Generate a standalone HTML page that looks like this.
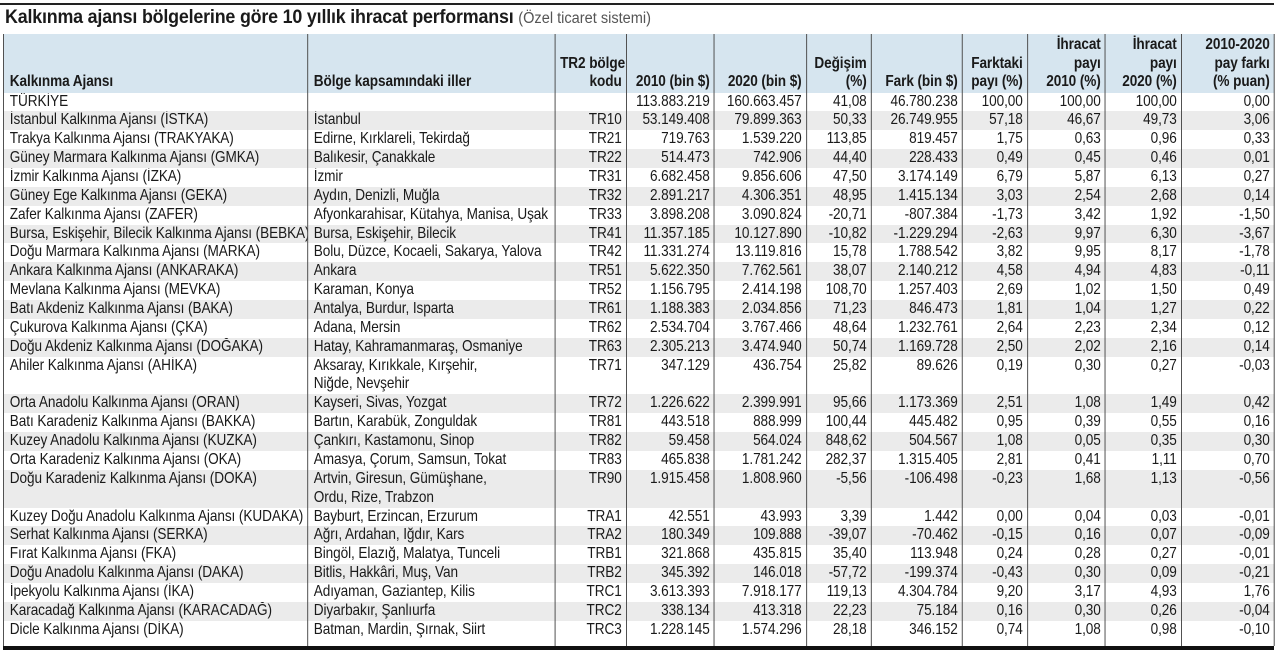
<!DOCTYPE html>
<html><head><meta charset="utf-8">
<style>
*{margin:0;padding:0;box-sizing:border-box}
body{width:1280px;height:654px;background:#fff;position:relative;overflow:hidden;font-family:"Liberation Sans",sans-serif;color:#1a1a1a}
#top{position:absolute;left:0;top:3px;width:1274px;height:2px;background:#222}
#title{position:absolute;left:5px;top:7px;font-size:19px;font-weight:bold;white-space:nowrap;letter-spacing:-0.2px;transform:scaleX(0.94);transform-origin:left top}
#title span{font-weight:normal;font-size:15.5px;color:#555;letter-spacing:0}
table{position:absolute;left:3px;top:34px;border-collapse:collapse;table-layout:fixed;width:1495.3px;font-size:16px;letter-spacing:-0.1px;transform:scaleX(0.85);transform-origin:left top}
td,th{border-left:1px solid #333;border-right:1px solid #333;padding:0 5px;white-space:nowrap;overflow:hidden;line-height:18.86px;vertical-align:top}
th{background:#d6e5ef;font-weight:bold;vertical-align:bottom;height:58.6px;line-height:18.5px;text-align:right;padding-bottom:1px}
th.l{text-align:left}
td{height:18.86px;text-align:right}
td.l{text-align:left;padding-left:7px}
td.m{text-align:left;padding-left:7px}
tr.g td{background:#ebebeb}
tr.d td{height:37.72px}
tr.e td{height:6px}
#bot{position:absolute;left:3px;top:646px;width:1271px;height:4px;background:#111}
</style></head><body>
<div id="top"></div>
<div id="title">Kalkınma ajansı bölgelerine göre 10 yıllık ihracat performansı <span>(Özel ticaret sistemi)</span></div>
<table>
<colgroup><col style="width:357.6px"><col style="width:291.8px"><col style="width:83.5px"><col style="width:103.5px"><col style="width:108.2px"><col style="width:76.5px"><col style="width:107.1px"><col style="width:76.5px"><col style="width:91.8px"><col style="width:89.4px"><col style="width:109.4px"></colgroup>
<tr><th class="l" style="padding-left:7px">Kalkınma Ajansı</th><th class="l" style="padding-left:7px">Bölge kapsamındaki iller</th><th>TR2 bölge<br>kodu</th><th>2010 (bin $)</th><th>2020 (bin $)</th><th>Değişim<br>(%)</th><th>Fark (bin $)</th><th>Farktaki<br>payı (%)</th><th>İhracat<br>payı<br>2010 (%)</th><th>İhracat<br>payı<br>2020 (%)</th><th>2010-2020<br>pay farkı<br>(% puan)</th></tr>
<tr><td class="l">TÜRKİYE</td><td class="m"></td><td></td><td>113.883.219</td><td>160.663.457</td><td>41,08</td><td>46.780.238</td><td>100,00</td><td>100,00</td><td>100,00</td><td>0,00</td></tr>
<tr class="g"><td class="l">İstanbul Kalkınma Ajansı (İSTKA)</td><td class="m">İstanbul</td><td>TR10</td><td>53.149.408</td><td>79.899.363</td><td>50,33</td><td>26.749.955</td><td>57,18</td><td>46,67</td><td>49,73</td><td>3,06</td></tr>
<tr><td class="l">Trakya Kalkınma Ajansı (TRAKYAKA)</td><td class="m">Edirne, Kırklareli, Tekirdağ</td><td>TR21</td><td>719.763</td><td>1.539.220</td><td>113,85</td><td>819.457</td><td>1,75</td><td>0,63</td><td>0,96</td><td>0,33</td></tr>
<tr class="g"><td class="l">Güney Marmara Kalkınma Ajansı (GMKA)</td><td class="m">Balıkesir, Çanakkale</td><td>TR22</td><td>514.473</td><td>742.906</td><td>44,40</td><td>228.433</td><td>0,49</td><td>0,45</td><td>0,46</td><td>0,01</td></tr>
<tr><td class="l">İzmir Kalkınma Ajansı (İZKA)</td><td class="m">İzmir</td><td>TR31</td><td>6.682.458</td><td>9.856.606</td><td>47,50</td><td>3.174.149</td><td>6,79</td><td>5,87</td><td>6,13</td><td>0,27</td></tr>
<tr class="g"><td class="l">Güney Ege Kalkınma Ajansı (GEKA)</td><td class="m">Aydın, Denizli, Muğla</td><td>TR32</td><td>2.891.217</td><td>4.306.351</td><td>48,95</td><td>1.415.134</td><td>3,03</td><td>2,54</td><td>2,68</td><td>0,14</td></tr>
<tr><td class="l">Zafer Kalkınma Ajansı (ZAFER)</td><td class="m">Afyonkarahisar, Kütahya, Manisa, Uşak</td><td>TR33</td><td>3.898.208</td><td>3.090.824</td><td>-20,71</td><td>-807.384</td><td>-1,73</td><td>3,42</td><td>1,92</td><td>-1,50</td></tr>
<tr class="g"><td class="l">Bursa, Eskişehir, Bilecik Kalkınma Ajansı (BEBKA)</td><td class="m">Bursa, Eskişehir, Bilecik</td><td>TR41</td><td>11.357.185</td><td>10.127.890</td><td>-10,82</td><td>-1.229.294</td><td>-2,63</td><td>9,97</td><td>6,30</td><td>-3,67</td></tr>
<tr><td class="l">Doğu Marmara Kalkınma Ajansı (MARKA)</td><td class="m">Bolu, Düzce, Kocaeli, Sakarya, Yalova</td><td>TR42</td><td>11.331.274</td><td>13.119.816</td><td>15,78</td><td>1.788.542</td><td>3,82</td><td>9,95</td><td>8,17</td><td>-1,78</td></tr>
<tr class="g"><td class="l">Ankara Kalkınma Ajansı (ANKARAKA)</td><td class="m">Ankara</td><td>TR51</td><td>5.622.350</td><td>7.762.561</td><td>38,07</td><td>2.140.212</td><td>4,58</td><td>4,94</td><td>4,83</td><td>-0,11</td></tr>
<tr><td class="l">Mevlana Kalkınma Ajansı (MEVKA)</td><td class="m">Karaman, Konya</td><td>TR52</td><td>1.156.795</td><td>2.414.198</td><td>108,70</td><td>1.257.403</td><td>2,69</td><td>1,02</td><td>1,50</td><td>0,49</td></tr>
<tr class="g"><td class="l">Batı Akdeniz Kalkınma Ajansı (BAKA)</td><td class="m">Antalya, Burdur, Isparta</td><td>TR61</td><td>1.188.383</td><td>2.034.856</td><td>71,23</td><td>846.473</td><td>1,81</td><td>1,04</td><td>1,27</td><td>0,22</td></tr>
<tr><td class="l">Çukurova Kalkınma Ajansı (ÇKA)</td><td class="m">Adana, Mersin</td><td>TR62</td><td>2.534.704</td><td>3.767.466</td><td>48,64</td><td>1.232.761</td><td>2,64</td><td>2,23</td><td>2,34</td><td>0,12</td></tr>
<tr class="g"><td class="l">Doğu Akdeniz Kalkınma Ajansı (DOĞAKA)</td><td class="m">Hatay, Kahramanmaraş, Osmaniye</td><td>TR63</td><td>2.305.213</td><td>3.474.940</td><td>50,74</td><td>1.169.728</td><td>2,50</td><td>2,02</td><td>2,16</td><td>0,14</td></tr>
<tr class="d"><td class="l">Ahiler Kalkınma Ajansı (AHİKA)</td><td class="m">Aksaray, Kırıkkale, Kırşehir,<br>Niğde, Nevşehir</td><td>TR71</td><td>347.129</td><td>436.754</td><td>25,82</td><td>89.626</td><td>0,19</td><td>0,30</td><td>0,27</td><td>-0,03</td></tr>
<tr class="g"><td class="l">Orta Anadolu Kalkınma Ajansı (ORAN)</td><td class="m">Kayseri, Sivas, Yozgat</td><td>TR72</td><td>1.226.622</td><td>2.399.991</td><td>95,66</td><td>1.173.369</td><td>2,51</td><td>1,08</td><td>1,49</td><td>0,42</td></tr>
<tr><td class="l">Batı Karadeniz Kalkınma Ajansı (BAKKA)</td><td class="m">Bartın, Karabük, Zonguldak</td><td>TR81</td><td>443.518</td><td>888.999</td><td>100,44</td><td>445.482</td><td>0,95</td><td>0,39</td><td>0,55</td><td>0,16</td></tr>
<tr class="g"><td class="l">Kuzey Anadolu Kalkınma Ajansı (KUZKA)</td><td class="m">Çankırı, Kastamonu, Sinop</td><td>TR82</td><td>59.458</td><td>564.024</td><td>848,62</td><td>504.567</td><td>1,08</td><td>0,05</td><td>0,35</td><td>0,30</td></tr>
<tr><td class="l">Orta Karadeniz Kalkınma Ajansı (OKA)</td><td class="m">Amasya, Çorum, Samsun, Tokat</td><td>TR83</td><td>465.838</td><td>1.781.242</td><td>282,37</td><td>1.315.405</td><td>2,81</td><td>0,41</td><td>1,11</td><td>0,70</td></tr>
<tr class="g d"><td class="l">Doğu Karadeniz Kalkınma Ajansı (DOKA)</td><td class="m">Artvin, Giresun, Gümüşhane,<br>Ordu, Rize, Trabzon</td><td>TR90</td><td>1.915.458</td><td>1.808.960</td><td>-5,56</td><td>-106.498</td><td>-0,23</td><td>1,68</td><td>1,13</td><td>-0,56</td></tr>
<tr><td class="l">Kuzey Doğu Anadolu Kalkınma Ajansı (KUDAKA)</td><td class="m">Bayburt, Erzincan, Erzurum</td><td>TRA1</td><td>42.551</td><td>43.993</td><td>3,39</td><td>1.442</td><td>0,00</td><td>0,04</td><td>0,03</td><td>-0,01</td></tr>
<tr class="g"><td class="l">Serhat Kalkınma Ajansı (SERKA)</td><td class="m">Ağrı, Ardahan, Iğdır, Kars</td><td>TRA2</td><td>180.349</td><td>109.888</td><td>-39,07</td><td>-70.462</td><td>-0,15</td><td>0,16</td><td>0,07</td><td>-0,09</td></tr>
<tr><td class="l">Fırat Kalkınma Ajansı (FKA)</td><td class="m">Bingöl, Elazığ, Malatya, Tunceli</td><td>TRB1</td><td>321.868</td><td>435.815</td><td>35,40</td><td>113.948</td><td>0,24</td><td>0,28</td><td>0,27</td><td>-0,01</td></tr>
<tr class="g"><td class="l">Doğu Anadolu Kalkınma Ajansı (DAKA)</td><td class="m">Bitlis, Hakkâri, Muş, Van</td><td>TRB2</td><td>345.392</td><td>146.018</td><td>-57,72</td><td>-199.374</td><td>-0,43</td><td>0,30</td><td>0,09</td><td>-0,21</td></tr>
<tr><td class="l">İpekyolu Kalkınma Ajansı (İKA)</td><td class="m">Adıyaman, Gaziantep, Kilis</td><td>TRC1</td><td>3.613.393</td><td>7.918.177</td><td>119,13</td><td>4.304.784</td><td>9,20</td><td>3,17</td><td>4,93</td><td>1,76</td></tr>
<tr class="g"><td class="l">Karacadağ Kalkınma Ajansı (KARACADAĞ)</td><td class="m">Diyarbakır, Şanlıurfa</td><td>TRC2</td><td>338.134</td><td>413.318</td><td>22,23</td><td>75.184</td><td>0,16</td><td>0,30</td><td>0,26</td><td>-0,04</td></tr>
<tr><td class="l">Dicle Kalkınma Ajansı (DİKA)</td><td class="m">Batman, Mardin, Şırnak, Siirt</td><td>TRC3</td><td>1.228.145</td><td>1.574.296</td><td>28,18</td><td>346.152</td><td>0,74</td><td>1,08</td><td>0,98</td><td>-0,10</td></tr>
<tr class="e"><td></td><td></td><td></td><td></td><td></td><td></td><td></td><td></td><td></td><td></td><td></td></tr>
</table>
<div id="bot"></div>
</body></html>
